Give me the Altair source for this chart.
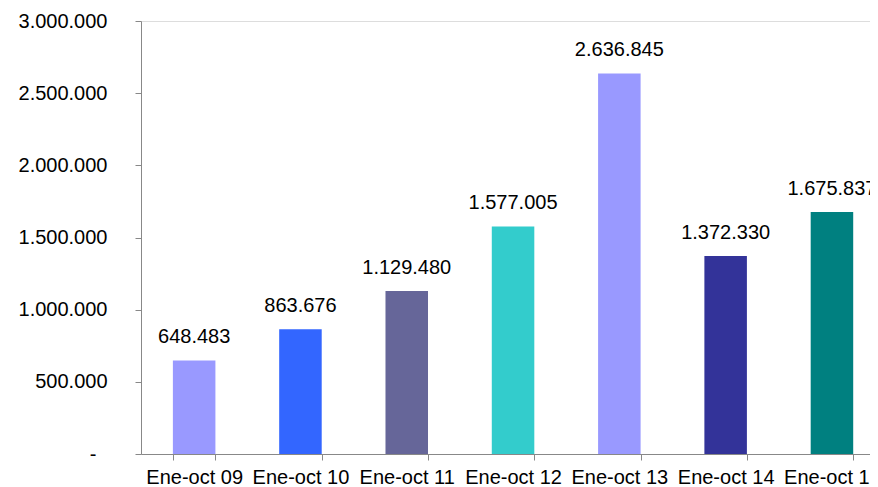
import altair as alt
import pandas as pd

categories = ["Ene-oct 09", "Ene-oct 10", "Ene-oct 11", "Ene-oct 12", "Ene-oct 13", "Ene-oct 14", "Ene-oct 15"]
values = [648483, 863676, 1129480, 1577005, 2636845, 1372330, 1675837]
colors = ["#9999FF", "#3366FF", "#666699", "#33CCCC", "#9999FF", "#333399", "#008080"]

df = pd.DataFrame({"cat": categories, "val": values, "color": colors})

FONT = "Liberation Sans"

# band layout that lets the last category run past the right edge, as in the reference
xscale = alt.Scale(type="band", paddingInner=0.6, paddingOuter=0.229, align=0.655)

x = alt.X("cat:N", sort=categories, title=None, scale=xscale,
          axis=alt.Axis(labelAngle=0, tickBand="extent", tickSize=6, tickColor="#888888",
                        domainColor="#888888", labelFontSize=20, labelFont=FONT,
                        labelColor="#000000", labelPadding=7, labelOverlap=False))
y = alt.Y("val:Q", title=None,
          scale=alt.Scale(domain=[0, 3000000], nice=False),
          axis=alt.Axis(values=[0, 500000, 1000000, 1500000, 2000000, 2500000, 3000000],
                        format=",.0f", grid=False, tickSize=6, tickColor="#888888",
                        domainColor="#888888", labelFontSize=20, labelFont=FONT,
                        labelColor="#000000",
                        labelPadding={"condition": {"test": "datum.value === 0", "value": 39},
                                      "value": 28},
                        labelExpr="datum.value == 0 ? '-' : datum.label"))

bars = alt.Chart(df).mark_bar(clip=False).encode(
    x=x, y=y, color=alt.Color("color:N", scale=None)
)
labels = alt.Chart(df).mark_text(baseline="bottom", dy=-13, fontSize=20, font=FONT,
                                 color="#000000").encode(
    x=alt.X("cat:N", sort=categories, scale=xscale), y="val:Q",
    text=alt.Text("val:Q", format=",.0f")
)

chart = (bars + labels).properties(
    width=729, height=433,
    autosize=alt.AutoSizeParams(type="none"),
    padding={"left": 133, "top": 13, "right": 0, "bottom": 33},
).configure_view(stroke=None).configure(background="white")

chart.save("out.html", embed_options={
    "renderer": "svg", "actions": False,
    "formatLocale": {"decimal": ",", "thousands": ".", "grouping": [3], "currency": ["", "€"]},
})
